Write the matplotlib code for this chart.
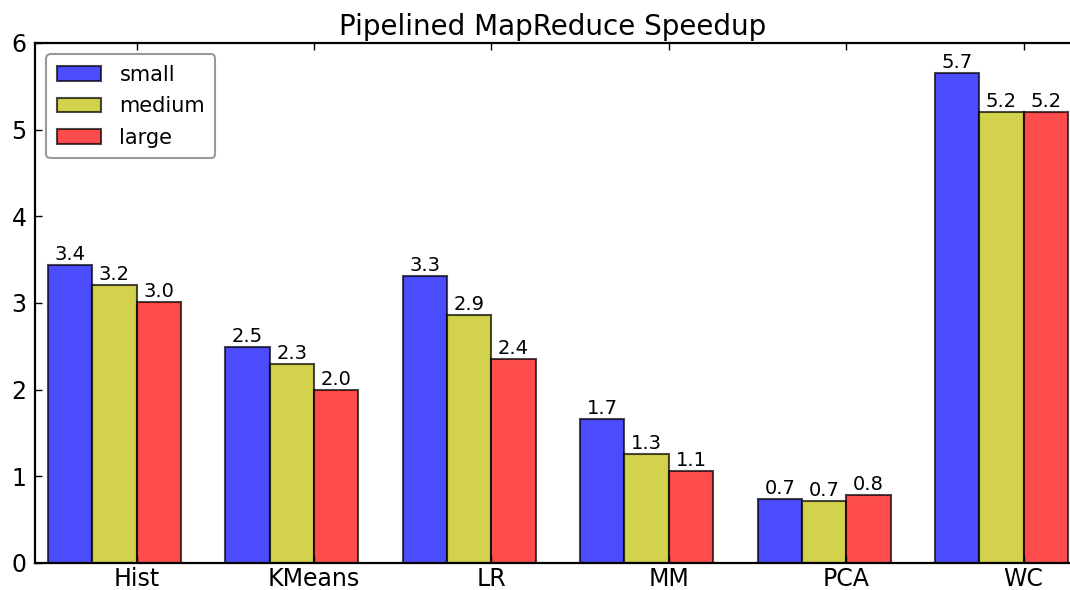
import numpy as np
import matplotlib
matplotlib.use("Agg")
import matplotlib.pyplot as plt

# Speedup per benchmark and input size
benchmarks = ["Hist", "KMeans", "LR", "MM", "PCA", "WC"]
small = [3.44, 2.49, 3.31, 1.66, 0.74, 5.65]
medium = [3.21, 2.30, 2.86, 1.26, 0.72, 5.20]
large = [3.01, 2.00, 2.35, 1.06, 0.79, 5.20]

plt.rcParams['font.family'] = 'DejaVu Sans'
plt.rcParams['xtick.direction'] = 'in'
plt.rcParams['ytick.direction'] = 'in'

fig = plt.figure(figsize=(10.7, 5.9), dpi=100)
# right side of the axes runs off the figure edge
ax = fig.add_axes([35 / 1070, 27 / 590, 1036 / 1070, 520 / 590])

ind = np.arange(len(benchmarks))
width = 0.25

series = [(small, (0, 0, 1), "small"),
          (medium, (0.75, 0.75, 0), "medium"),
          (large, (1, 0, 0), "large")]

for i, (vals, col, name) in enumerate(series):
    rects = ax.bar(ind + i * width, vals, width, align='edge', color=col,
                   alpha=0.7, edgecolor='black', linewidth=1.5, label=name)
    for r in rects:
        h = r.get_height()
        ax.text(r.get_x() + r.get_width() / 2., h + 0.01, '%.1f' % h,
                ha='center', va='bottom', fontsize=14)

ax.set_title("Pipelined MapReduce Speedup", fontsize=20, pad=6)
ax.set_xticks(ind + 2 * width)
ax.set_xticklabels(benchmarks, fontsize=17)
ax.set_xlim(-0.073, 5.767)
ax.set_ylim(0, 6)
ax.set_yticks(range(0, 7))
ax.tick_params(axis='y', labelsize=17, length=5, width=1, right=False, pad=6)
ax.tick_params(axis='x', length=5, width=1, top=True, pad=3)
for s in ax.spines.values():
    s.set_linewidth(1.6)
ax.spines['right'].set_visible(False)

leg = ax.legend(loc='upper left', fontsize=15, fancybox=True,
                borderaxespad=0.55, handlelength=2.1, handletextpad=0.9,
                labelspacing=0.55, borderpad=0.5)
leg.get_frame().set_edgecolor('#808080')
leg.get_frame().set_linewidth(1.5)

fig.savefig("out.png", dpi=100)
